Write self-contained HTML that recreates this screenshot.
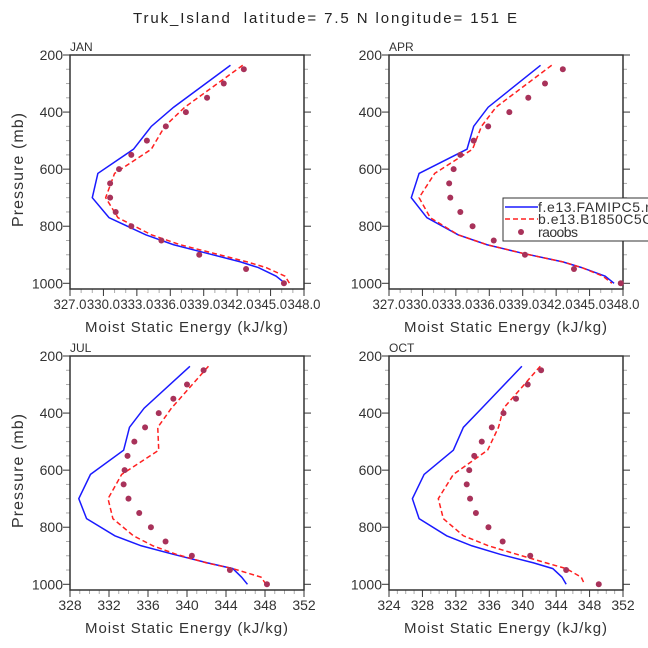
<!DOCTYPE html>
<html><head><meta charset="utf-8"><style>
body{margin:0;background:#fff}
svg{display:block;font-family:"Liberation Sans",sans-serif}
</style></head><body>
<svg id="s" width="648" height="648" viewBox="0 0 648 648">
<text x="133" y="23" textLength="384" lengthAdjust="spacing" font-size="15" fill="#222" style="white-space:pre">Truk_Island  latitude= 7.5 N longitude= 151 E</text>
</svg>
<script>
const levels=[236,383,450,530,615,700,770,830,865,895,925,945,975,1000];
const obsLevels=[250,300,350,400,450,500,550,600,650,700,750,800,850,900,950,1000];
const janBlue=[341.4,336.3,334.3,332.7,329.5,329.0,330.5,333.8,336.3,339.3,342.3,343.9,345.5,346.3];
const janRed=[342.5,337.3,335.5,334.3,331.0,330.2,331.3,334.3,336.9,339.9,342.9,344.6,346.3,346.7];
const janObs=[342.6,340.8,339.3,337.4,335.6,333.9,332.5,331.4,330.6,330.6,331.1,332.5,335.2,338.6,342.8,346.2];
const aprBlue=[340.6,335.9,334.6,334.0,329.7,329.0,330.4,333.2,335.8,339.0,342.6,344.3,346.4,347.2];
const aprRed=[341.6,336.6,335.3,334.5,331.1,329.7,330.7,333.2,335.8,339.0,342.6,344.3,346.2,347.0];
const aprObs=[342.6,341.0,339.5,337.8,335.9,334.6,333.4,332.8,332.4,332.5,333.4,334.5,336.4,339.2,343.6,347.8];
const julBlue=[340.3,335.6,334.1,333.5,330.1,328.9,329.7,332.6,335.3,338.6,342.1,344.7,345.6,346.2];
const julRed=[342.2,338.4,337.0,337.1,333.3,331.9,332.4,334.5,336.5,338.9,342.0,344.7,347.6,348.1];
const julObs=[341.7,340.0,338.6,337.1,335.7,334.6,333.9,333.6,333.5,334.0,335.1,336.3,337.8,340.5,344.4,348.2];
const octBlue=[339.9,335.1,332.9,331.7,328.2,326.8,327.6,330.9,333.9,337.3,341.3,343.6,344.7,345.2];
const octRed=[342.1,337.7,337.1,335.8,331.7,329.9,330.5,332.9,335.9,339.3,342.8,345.2,347.0,347.4];
const octObs=[342.2,340.6,339.2,337.7,336.3,335.1,334.2,333.6,333.3,333.7,334.4,335.9,337.6,340.9,345.2,349.1];
const pTicks=[200,400,600,800,1000];
const xTicksA=[327,330,333,336,339,342,345,348];
const xTicksJul=[328,332,336,340,344,348,352];
const xTicksOct=[324,328,332,336,340,344,348,352];

const svg=document.getElementById('s');
const NS='http://www.w3.org/2000/svg';
function mk(t,a,p){const e=document.createElementNS(NS,t);for(const k in a)e.setAttribute(k,a[k]);(p||svg).appendChild(e);return e;}

const panels=[
 {name:'jan',label:'JAN',x0:70,y0:55,xmin:327,xmax:348,xt:xTicksA,minor:1,fmt:1,b:janBlue,r:janRed,o:janObs,ylab:true},
 {name:'apr',label:'APR',x0:389,y0:55,xmin:327,xmax:348,xt:xTicksA,minor:1,fmt:1,b:aprBlue,r:aprRed,o:aprObs,ylab:false},
 {name:'jul',label:'JUL',x0:70,y0:356,xmin:328,xmax:352,xt:xTicksJul,minor:1,fmt:0,b:julBlue,r:julRed,o:julObs,ylab:true},
 {name:'oct',label:'OCT',x0:389,y0:356,xmin:324,xmax:352,xt:xTicksOct,minor:1,fmt:0,b:octBlue,r:octRed,o:octObs,ylab:false}
];
const W=234,H=234;
panels.forEach(P=>{
 const g=mk('g',{});
 
 
 const X=v=>P.x0+(v-P.xmin)/(P.xmax-P.xmin)*W;
 const Y=p=>P.y0+(p-200)/820*H;
 const c='#333';
 for(let p=200;p<=1000;p+=50){const maj=p%200===0;const L=maj?7:4;
  mk('line',{x1:P.x0-L,x2:P.x0,y1:Y(p),y2:Y(p),stroke:maj?c:'#aaa','stroke-width':1},g);
  mk('line',{x1:P.x0+W,x2:P.x0+W+L,y1:Y(p),y2:Y(p),stroke:maj?c:'#aaa','stroke-width':1},g);}
 for(let v=P.xmin;v<=P.xmax;v+=P.minor){const maj=P.xt.includes(v);const L=maj?7:4;
  mk('line',{x1:X(v),x2:X(v),y1:P.y0+H,y2:P.y0+H+L,stroke:maj?c:'#aaa','stroke-width':1},g);}
 mk('rect',{x:P.x0,y:P.y0,width:W,height:H,fill:'none',stroke:c,'stroke-width':1.5},g);
 const lab=mk('text',{x:P.x0,y:P.y0-4,'font-size':12,fill:'#333'},g);lab.textContent=P.label;
 
 
 pTicks.forEach(p=>{const t=mk('text',{x:P.x0-7,y:Y(p)+5,'text-anchor':'end','font-size':14,fill:'#333'},g);t.textContent=p;
  
  });
 P.xt.forEach(v=>{const t=mk('text',{x:X(v),y:P.y0+H+20,'text-anchor':'middle','font-size':14,fill:'#333'},g);t.textContent=P.fmt?v.toFixed(1):v;
  if(P.fmt){t.setAttribute('textLength','33');t.setAttribute('lengthAdjust','spacingAndGlyphs');}
  
  });
 const xt=mk('text',{x:P.x0+15,y:P.y0+H+43,textLength:203,lengthAdjust:'spacing','font-size':15,fill:'#333'},g);xt.textContent='Moist Static Energy (kJ/kg)';
 
 
 if(P.ylab){const yt=mk('text',{x:-57,y:0,textLength:114,lengthAdjust:'spacing',transform:`translate(23,${P.y0+115}) rotate(-90)`,'font-size':16,fill:'#333'},g);yt.textContent='Pressure (mb)';
  
  }
 const pb=mk('polyline',{points:levels.map((p,i)=>X(P.b[i])+','+Y(p)).join(' '),fill:'none',stroke:'#1a1aff','stroke-width':1.5},g);
 
 
 const pr=mk('polyline',{points:levels.map((p,i)=>X(P.r[i])+','+Y(p)).join(' '),fill:'none',stroke:'#ff2020','stroke-width':1.5,'stroke-dasharray':'5,3'},g);
 
 
 obsLevels.forEach((p,i)=>{const d=mk('circle',{cx:X(P.o[i]),cy:Y(p),r:3,fill:'#a8325a'},g);
  
  });
});
const lg=mk('g',{});


mk('rect',{x:503,y:198,width:150,height:43,fill:'#fff',stroke:'#333','stroke-width':1},lg);
mk('line',{x1:505,x2:538,y1:207,y2:207,stroke:'#1a1aff','stroke-width':1.5},lg);
mk('line',{x1:505,x2:538,y1:219,y2:219,stroke:'#ff2020','stroke-width':1.5,'stroke-dasharray':'5,3'},lg);
mk('circle',{cx:521,cy:232,r:3,fill:'#a8325a'},lg);
[['f.e13.FAMIPC5.ne30',212,140],['b.e13.B1850C5CN',224,125],['raoobs',237,40]].forEach(a=>{const t=mk('text',{x:538,y:a[1],'font-size':14,fill:'#333',textLength:a[2],lengthAdjust:'spacing'},lg);t.textContent=a[0];
 
 });
</script>
</body></html>
